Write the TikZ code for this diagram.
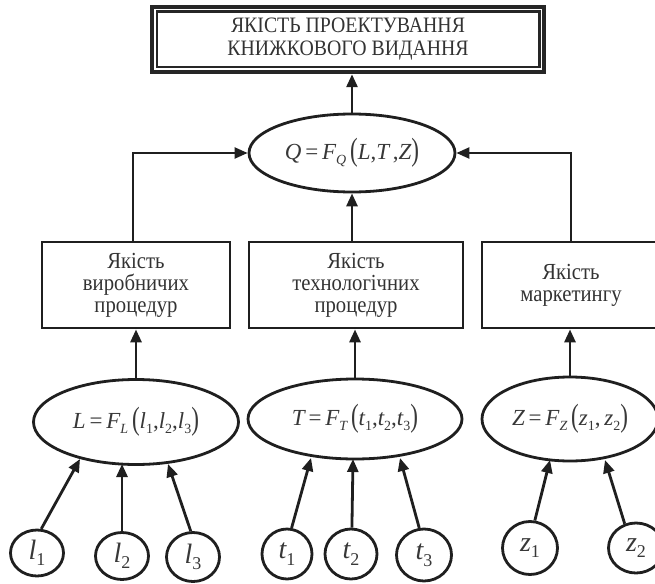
\documentclass[tikz,border=0pt]{standalone}
\usepackage{fontspec}
\setmainfont{Liberation Serif}
\newfontfamily\condfont{Liberation Serif}[FakeStretch=0.9]
\usepackage{graphicx}
\usetikzlibrary{shapes.geometric,arrows.meta}
\newcommand\mv[1]{{\itshape #1}}
\newcommand\msb[1]{\raisebox{-0.5ex}{\fontsize{14}{14}\selectfont #1}}
\newcommand\bsb[1]{\raisebox{-0.5ex}{\fontsize{18}{18}\selectfont #1}}
\newcommand\bigp[1]{\raisebox{-0.15ex}{\scalebox{1}[1.4]{#1}}}
\tikzset{
  ln/.style={line width=2.8pt, draw=black!88},
  thinln/.style={line width=2.2pt, draw=black!88},
  arr/.style={ln, -{Triangle[length=13pt,width=11pt]}},
  thinarr/.style={thinln, -{Triangle[length=13pt,width=11pt]}},
  boxn/.style={ln, rectangle, inner sep=2pt, align=center, minimum height=86pt,
    font=\condfont\fontsize{23}{22}\selectfont, text=black!80},
  ell/.style={ln, ellipse, inner sep=0pt, font=\fontsize{23}{23}\selectfont, text=black!78},
  var/.style={ln, ellipse, inner sep=0pt, font=\fontsize{28}{28}\selectfont, text=black!78},
}
\begin{document}
\begin{tikzpicture}[x=1pt,y=1pt]
\useasboundingbox (0,0) rectangle (655,-583);
\clip (0,0) rectangle (655,-583);
% top box
\node[draw=black!85, line width=4.5pt, rectangle, minimum width=392pt, minimum height=65pt,
  align=center, font=\condfont\fontsize{22}{23}\selectfont, text=black!80] (top) at (348,-39.5)
  {ЯКІСТЬ ПРОЕКТУВАННЯ\\КНИЖКОВОГО ВИДАННЯ};
\draw[draw=black!85, line width=2.5pt] ([shift={(7,-7)}]top.north west) rectangle ([shift={(-7,7)}]top.south east);
% Q ellipse
\node[ell, minimum width=206pt, minimum height=78pt] (Q) at (352,-153)
  {\mv{Q}\,=\,\mv{F}\msb{\mv{Q}}\,\bigp{(}\mv{L},\mv{T}\,,\mv{Z}\bigp{)}};
% boxes
\node[boxn, minimum width=188pt] (box1) at (136,-285) {Якість\\виробничих\\процедур};
\node[boxn, minimum width=214pt] (box2) at (356,-285) {Якість\\технологічних\\процедур};
\node[boxn, minimum width=178pt] (box3) at (571,-285) {Якість\\маркетингу};
% lower ellipses
\node[ell, minimum width=205pt, minimum height=85pt] (L) at (136,-422)
  {\mv{L}\,=\,\mv{F}\msb{\mv{L}}\,\bigp{(}\mv{l}\msb{1},\mv{l}\msb{2},\mv{l}\msb{3}\bigp{)}};
\node[ell, minimum width=214pt, minimum height=80pt] (T) at (355,-419)
  {\mv{T}\,=\,\mv{F}\msb{\mv{T}}\,\bigp{(}\mv{t}\msb{1},\mv{t}\msb{2},\mv{t}\msb{3}\bigp{)}};
\node[ell, minimum width=176pt, minimum height=84pt] (Z) at (570,-419)
  {\mv{Z}\,=\,\mv{F}\msb{\mv{Z}}\,\bigp{(}\mv{z}\msb{1},\,\mv{z}\msb{2}\bigp{)}};
% variable circles
\node[var, minimum width=53pt, minimum height=46pt] (l1) at (37,-553) {\mv{l}\bsb{1}};
\node[var, minimum width=53pt, minimum height=47pt] (l2) at (122,-556) {\mv{l}\bsb{2}};
\node[var, minimum width=53pt, minimum height=49pt] (l3) at (193,-557) {\mv{l}\bsb{3}};
\node[var, minimum width=50pt, minimum height=50pt] (t1) at (287,-554) {\mv{t}\bsb{1}};
\node[var, minimum width=52pt, minimum height=50pt] (t2) at (351,-554) {\mv{t}\bsb{2}};
\node[var, minimum width=55pt, minimum height=52pt] (t3) at (424,-555) {\mv{t}\bsb{3}};
\node[var, minimum width=55pt, minimum height=53pt] (z1) at (530,-548) {\mv{z}\bsb{1}};
\node[var, minimum width=55pt, minimum height=50pt] (z2) at (636,-548) {\mv{z}\bsb{2}};
% arrow end points on ellipse borders
\coordinate (el1) at (80,-459);
\coordinate (el2) at (122,-464);
\coordinate (el3) at (168,-464);
\coordinate (et1) at (311,-458);
\coordinate (et2) at (353,-459);
\coordinate (et3) at (400,-458);
\coordinate (ez1) at (550,-460);
\coordinate (ez2) at (605,-460);
% connectors
\draw[arr] (Q.north) -- (Q.north |- top.south);
\draw[thinarr] ([xshift=-3pt]box1.north) |- (Q.west);
\draw[thinarr] (box3.north) |- (Q.east);
\draw[arr] (Q.south |- box2.north) -- (Q.south);
\draw[arr] (L.north) -- (box1.south);
\draw[arr] (T.north) -- (T.north |- box2.south);
\draw[arr] (Z.north) -- (Z.north |- box3.south);
\draw[arr] (l1.80) -- (el1);
\draw[arr] (l2.north) -- (el2);
\draw[arr] (l3.95) -- (el3);
\draw[arr] (t1.80) -- (et1);
\draw[arr] (t2.88) -- (et2);
\draw[arr] (t3.100) -- (et3);
\draw[arr] (z1.80) -- (ez1);
\draw[arr] (z2.115) -- (ez2);
\end{tikzpicture}
\end{document}
